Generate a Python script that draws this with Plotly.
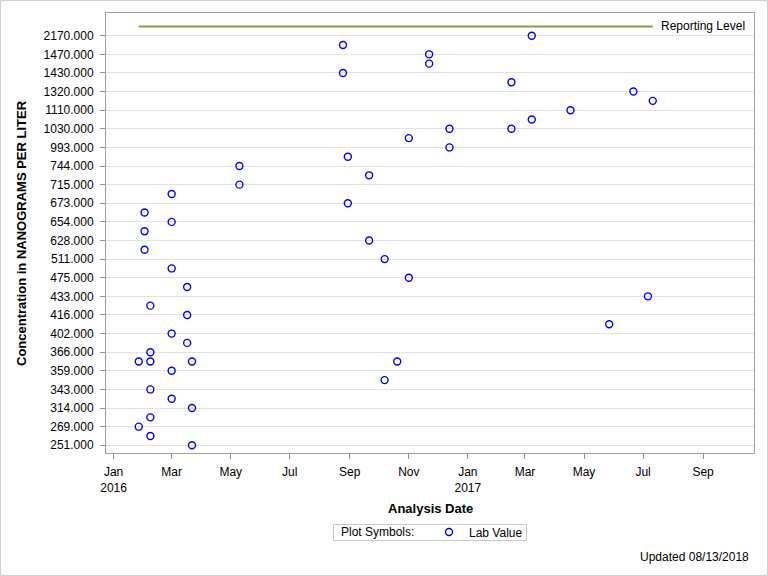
import plotly.graph_objects as go

# ---------------- data ----------------
# Concentration levels (ng/L) on the discrete axis, bottom to top.
# Labeled levels alternate with unlabeled intermediate levels (estimated).
levels = [251, 260, 269, 290, 314, 330, 343, 350, 359, 362, 366, 384, 402, 409,
          416, 424, 433, 452, 475, 490, 511, 560, 628, 640, 654, 662, 673, 692,
          715, 728, 744, 860, 993, 1010, 1030, 1060, 1110, 1200, 1320, 1380,
          1430, 1450, 1470, 1720, 2170]
labeled_levels = [251, 269, 314, 343, 359, 366, 402, 416, 433, 475, 511, 628,
                  654, 673, 715, 744, 993, 1030, 1110, 1320, 1430, 1470, 2170]
reporting_level_name = "Reporting Level"

sample_dates = [
    "2016-01-27", "2016-01-27",
    "2016-02-02", "2016-02-02", "2016-02-02",
    "2016-02-08", "2016-02-08", "2016-02-08", "2016-02-08", "2016-02-08", "2016-02-08",
    "2016-03-01", "2016-03-01", "2016-03-01", "2016-03-01", "2016-03-01", "2016-03-01",
    "2016-03-17", "2016-03-17", "2016-03-17",
    "2016-03-22", "2016-03-22", "2016-03-22",
    "2016-05-10", "2016-05-10",
    "2016-08-25", "2016-08-25",
    "2016-08-30", "2016-08-30",
    "2016-09-21", "2016-09-21",
    "2016-10-07", "2016-10-07",
    "2016-10-20",
    "2016-11-01", "2016-11-01",
    "2016-11-22", "2016-11-22",
    "2016-12-13", "2016-12-13",
    "2017-02-15", "2017-02-15",
    "2017-03-08", "2017-03-08",
    "2017-04-17",
    "2017-05-27",
    "2017-06-21",
    "2017-07-06",
    "2017-07-11",
]
lab_values = [
    362, 269,
    662, 640, 560,
    424, 366, 362, 343, 290, 260,
    692, 654, 490, 402, 359, 330,
    452, 416, 384,
    362, 314, 251,
    744, 715,
    1720, 1430,
    860, 673,
    728, 628,
    511, 350,
    362,
    1010, 475,
    1470, 1450,
    1030, 993,
    1380, 1030,
    2170, 1060,
    1110,
    409,
    1320,
    433,
    1200,
]
reporting_dates = ["2016-01-27", "2017-07-11"]

x_tick_dates = ["2016-01-01", "2016-03-01", "2016-05-01", "2016-07-01", "2016-09-01",
                "2016-11-01", "2017-01-01", "2017-03-01", "2017-05-01", "2017-07-01",
                "2017-09-01"]
x_tick_text = ["Jan<br>2016", "Mar", "May", "Jul", "Sep", "Nov", "Jan<br>2017",
               "Mar", "May", "Jul", "Sep"]

# ---------------- figure ----------------
def cat(v):
    return f"{v:.3f}"

categories = [cat(v) for v in levels] + [reporting_level_name]

FONT = "Liberation Sans, Arial, sans-serif"

fig = go.Figure()

fig.add_trace(go.Scatter(
    x=reporting_dates, y=[reporting_level_name] * len(reporting_dates),
    mode="lines", line=dict(color="#87A042", width=2),
    showlegend=False, hoverinfo="skip"))

fig.add_trace(go.Scatter(
    x=sample_dates, y=[cat(v) for v in lab_values],
    mode="markers", name="Lab Value",
    marker=dict(symbol="circle-open", size=7, color="#0000FF",
                line=dict(width=1.4, color="#0000FF"))))

L, R, T, B = 106, 14, 13, 123
W, H = 768, 576
pw, ph = W - L - R, H - T - B

def px_x(px):
    return (px - L) / pw

def px_y(py):
    return (H - B - py) / ph

fig.update_layout(
    width=W, height=H,
    margin=dict(l=L, r=R, t=T, b=B),
    paper_bgcolor="white", plot_bgcolor="white",
    font=dict(family=FONT, size=12, color="black"),
    xaxis=dict(
        type="date",
        range=["2015-12-24 04:00", "2017-10-23 14:00"],
        tickvals=x_tick_dates, ticktext=x_tick_text,
        ticks="outside", ticklen=5, tickcolor="#909090",
        ticklabelstandoff=3,
        showline=True, linecolor="#A0A0A0", linewidth=1, mirror=True,
        showgrid=False, zeroline=False,
        tickfont=dict(size=12),
    ),
    yaxis=dict(
        type="category",
        categoryorder="array", categoryarray=categories,
        range=[-0.83, 46.44],
        tickvals=[cat(v) for v in labeled_levels],
        ticktext=[cat(v) for v in labeled_levels],
        ticks="outside", ticklen=5, tickcolor="#909090",
        ticklabelstandoff=4,
        showline=True, linecolor="#A0A0A0", linewidth=1, mirror=True,
        showgrid=True, gridcolor="#E3E3E3", gridwidth=1,
        zeroline=False,
        tickfont=dict(size=12),
    ),
    legend=dict(
        orientation="h",
        x=px_x(429), xanchor="left",
        y=px_y(532), yanchor="middle",
        borderwidth=0,
        bgcolor="rgba(0,0,0,0)",
        font=dict(size=12),
        itemwidth=30,
        tracegroupgap=0,
    ),
    showlegend=True,
)

# legend frame and title
fig.add_shape(
    type="rect", xref="paper", yref="paper",
    x0=px_x(333.5), x1=px_x(526.5), y0=px_y(540.5), y1=px_y(524.5),
    line=dict(color="#C8C8C8", width=1), fillcolor="rgba(0,0,0,0)", layer="above")
fig.add_annotation(
    text="Plot Symbols:",
    xref="paper", yref="paper", x=px_x(339), y=px_y(532),
    xanchor="left", yanchor="middle",
    showarrow=False, font=dict(size=12))

fig.add_annotation(
    text="<b>Concentration in NANOGRAMS PER LITER</b>",
    xref="paper", yref="paper", x=px_x(21), y=px_y(233),
    xanchor="center", yanchor="middle", textangle=-90,
    showarrow=False, font=dict(size=13))

fig.add_annotation(
    text="<b>Analysis Date</b>",
    xref="paper", yref="paper", x=px_x(430), y=px_y(508),
    xanchor="center", yanchor="middle",
    showarrow=False, font=dict(size=13))

fig.add_annotation(
    text="Updated 08/13/2018",
    xref="paper", yref="paper", x=px_x(751), y=px_y(557),
    xanchor="right", yanchor="middle",
    showarrow=False, font=dict(size=12))

fig.add_annotation(
    text=reporting_level_name,
    xref="x", yref="y", x=reporting_dates[-1], y=reporting_level_name,
    xanchor="left", yanchor="middle", xshift=6,
    showarrow=False, font=dict(size=12))

# outer frame of the image
fig.add_shape(
    type="rect", xref="paper", yref="paper",
    x0=px_x(0.5), x1=px_x(767.5), y0=px_y(575.5), y1=px_y(0.5),
    line=dict(color="#D0D0D0", width=1), layer="above")

fig.write_html("out.html")
